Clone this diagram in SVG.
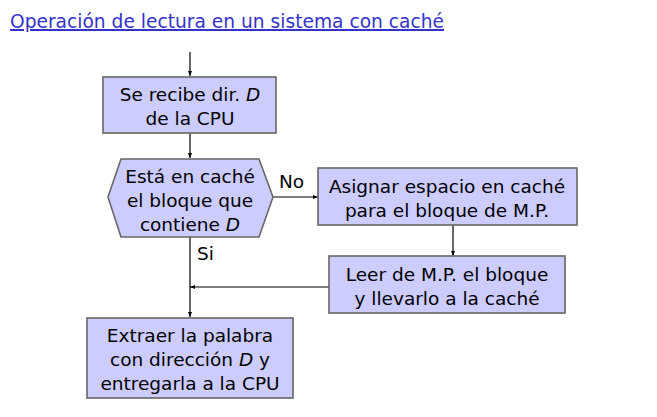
<svg xmlns="http://www.w3.org/2000/svg" width="657" height="417" viewBox="0 0 657 417">
<defs>
<marker id="ah" viewBox="0 0 10 10" refX="10" refY="5" markerWidth="5" markerHeight="5" orient="auto" markerUnits="userSpaceOnUse">
<path d="M0,1 L10,5 L0,9 z" fill="#000"/>
</marker>
<style>
.n{fill:#ccccff;stroke:#666;stroke-width:1.6}
.t{font-family:"DejaVu Sans","Liberation Sans",sans-serif;font-size:18.5px;fill:#000;text-anchor:middle}
.l{font-family:"DejaVu Sans","Liberation Sans",sans-serif;font-size:18.5px;fill:#000}
.c{stroke:#000;stroke-width:1.2;fill:none}
.i{font-style:italic}
</style>
</defs>
<rect width="657" height="417" fill="#fff"/>
<text x="10" y="28" font-family="DejaVu Sans, Liberation Sans, sans-serif" font-size="20" fill="#3333cc" text-decoration="underline" textLength="434" lengthAdjust="spacingAndGlyphs">Operación de lectura en un sistema con caché</text>
<g id="connectors">
<line class="c" x1="190" y1="52" x2="190" y2="76" marker-end="url(#ah)"/>
<line class="c" x1="190" y1="133" x2="190" y2="158" marker-end="url(#ah)"/>
<line class="c" x1="273" y1="197" x2="318" y2="197" marker-end="url(#ah)"/>
<line class="c" x1="453" y1="225" x2="453" y2="256" marker-end="url(#ah)"/>
<line class="c" x1="329" y1="287" x2="190" y2="287" marker-end="url(#ah)"/>
<line class="c" x1="190" y1="237" x2="190" y2="317" marker-end="url(#ah)"/>
<text class="l" x="279" y="188">No</text>
<text class="l" x="197" y="260">Si</text>
</g>
<g id="n1">
<rect class="n" x="103" y="77" width="173" height="56"/>
<text class="t" x="190" y="101">Se recibe dir. <tspan class="i">D</tspan></text>
<text class="t" x="190" y="125">de la CPU</text>
</g>
<g id="n2">
<polygon class="n" points="121,159 259,159 273,197 259,237 121,237 108,197"/>
<text class="t" x="190" y="183">Está en caché</text>
<text class="t" x="190" y="207">el bloque que</text>
<text class="t" x="190" y="231">contiene <tspan class="i">D</tspan></text>
</g>
<g id="n3">
<rect class="n" x="318" y="168" width="259" height="57"/>
<text class="t" x="447" y="193">Asignar espacio en caché</text>
<text class="t" x="447" y="217">para el bloque de M.P.</text>
</g>
<g id="n4">
<rect class="n" x="329" y="256" width="236" height="57"/>
<text class="t" x="447" y="281">Leer de M.P. el bloque</text>
<text class="t" x="447" y="305">y llevarlo a la caché</text>
</g>
<g id="n5">
<rect class="n" x="87" y="318" width="206" height="80"/>
<text class="t" x="190" y="342">Extraer la palabra</text>
<text class="t" x="190" y="366">con dirección <tspan class="i">D</tspan> y</text>
<text class="t" x="190" y="390">entregarla a la CPU</text>
</g>
</svg>
